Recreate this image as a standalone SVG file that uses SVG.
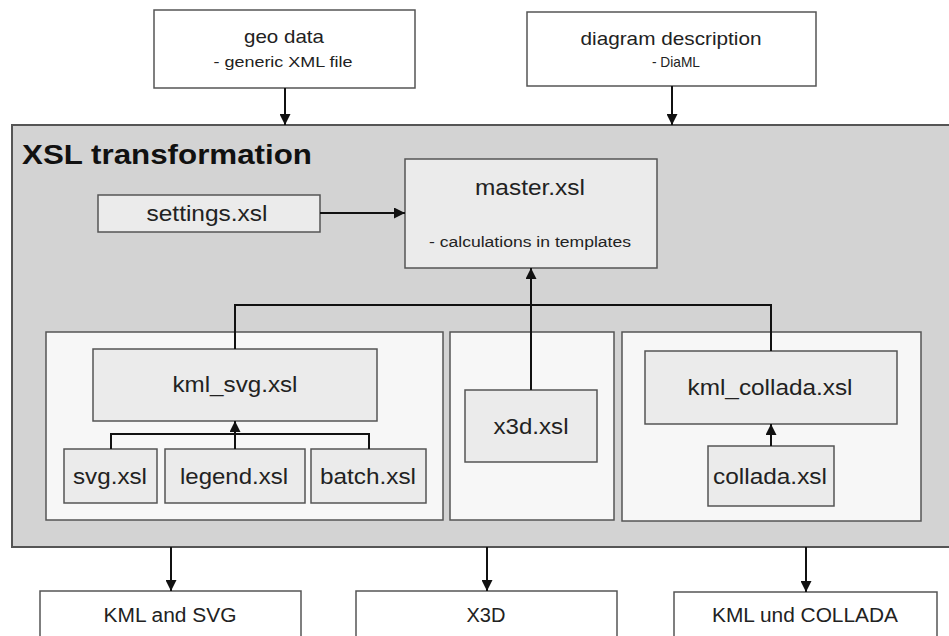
<svg xmlns="http://www.w3.org/2000/svg" width="949" height="636" viewBox="0 0 949 636">
<defs>
<marker id="ah" viewBox="0 0 10 10" refX="10" refY="5" markerWidth="6" markerHeight="5.5" orient="auto" markerUnits="strokeWidth">
<path d="M0,0 L10,5 L0,10 Z" fill="#111"/>
</marker>
<style>
text{font-family:"Liberation Sans",Arial,sans-serif;fill:#222;text-anchor:middle}
.w{fill:#fff;stroke:#555;stroke-width:1.5}
.main{fill:#d3d3d3;stroke:#555;stroke-width:2}
.pan{fill:#f7f7f7;stroke:#555;stroke-width:1.5}
.in{fill:#ebebeb;stroke:#555;stroke-width:1.5}
.c{fill:none;stroke:#111;stroke-width:2}
.a{marker-end:url(#ah)}
.t20{font-size:22px}
</style>
</defs>
<rect width="949" height="636" fill="#fff"/>

<g id="geo"><rect class="w" x="154" y="10" width="261" height="78"/>
<text x="284" y="43" font-size="19" textLength="80" lengthAdjust="spacingAndGlyphs">geo data</text>
<text x="283" y="67" font-size="15.5" textLength="139" lengthAdjust="spacingAndGlyphs">- generic XML file</text></g>

<g id="diagram"><rect class="w" x="527" y="12" width="289" height="74"/>
<text x="671" y="45" font-size="19" textLength="181" lengthAdjust="spacingAndGlyphs">diagram description</text>
<text x="676" y="67" font-size="15" textLength="48" lengthAdjust="spacingAndGlyphs">- DiaML</text></g>

<g id="xsl"><rect class="main" x="12" y="125" width="950" height="422"/>
<text x="22" y="164" font-size="27.5" font-weight="bold" style="text-anchor:start;fill:#111" textLength="290" lengthAdjust="spacingAndGlyphs">XSL transformation</text></g>

<g id="master"><rect class="in" x="405" y="159" width="252" height="109"/>
<text x="530" y="195" class="t20" textLength="110" lengthAdjust="spacingAndGlyphs">master.xsl</text>
<text x="530" y="247" font-size="15.5" textLength="202" lengthAdjust="spacingAndGlyphs">- calculations in templates</text></g>

<g id="settings"><rect class="in" x="98" y="195" width="222" height="37"/>
<text x="207" y="221" class="t20" textLength="121" lengthAdjust="spacingAndGlyphs">settings.xsl</text></g>

<g id="panel-svg"><rect class="pan" x="46" y="332" width="397" height="188"/></g>
<g id="panel-x3d"><rect class="pan" x="450" y="332" width="164" height="188"/></g>
<g id="panel-collada"><rect class="pan" x="622" y="332" width="299" height="189"/></g>

<g id="kml_svg"><rect class="in" x="93" y="349" width="284" height="72"/>
<text x="235" y="392" class="t20" textLength="125" lengthAdjust="spacingAndGlyphs">kml_svg.xsl</text></g>
<g id="svg"><rect class="in" x="64" y="449" width="93" height="54"/>
<text x="110" y="484" class="t20" textLength="74" lengthAdjust="spacingAndGlyphs">svg.xsl</text></g>
<g id="legend"><rect class="in" x="165" y="449" width="140" height="54"/>
<text x="234" y="484" class="t20" textLength="108" lengthAdjust="spacingAndGlyphs">legend.xsl</text></g>
<g id="batch"><rect class="in" x="311" y="449" width="115" height="54"/>
<text x="368" y="484" class="t20" textLength="96" lengthAdjust="spacingAndGlyphs">batch.xsl</text></g>

<g id="x3d"><rect class="in" x="465" y="390" width="132" height="72"/>
<text x="531" y="434" class="t20" textLength="75" lengthAdjust="spacingAndGlyphs">x3d.xsl</text></g>

<g id="kml_collada"><rect class="in" x="645" y="351" width="252" height="73"/>
<text x="770" y="395" class="t20" textLength="165" lengthAdjust="spacingAndGlyphs">kml_collada.xsl</text></g>
<g id="collada"><rect class="in" x="708" y="446" width="126" height="60"/>
<text x="770" y="484" class="t20" textLength="114" lengthAdjust="spacingAndGlyphs">collada.xsl</text></g>

<g id="out-svg"><rect class="w" x="40" y="591" width="261" height="60"/>
<text x="170" y="622" font-size="20" textLength="133" lengthAdjust="spacingAndGlyphs">KML and SVG</text></g>
<g id="out-x3d"><rect class="w" x="356" y="591" width="261" height="60"/>
<text x="486" y="622" font-size="20" textLength="39" lengthAdjust="spacingAndGlyphs">X3D</text></g>
<g id="out-collada"><rect class="w" x="674" y="592" width="263" height="60"/>
<text x="805" y="622" font-size="20" textLength="186" lengthAdjust="spacingAndGlyphs">KML und COLLADA</text></g>

<g id="connectors">
<path class="c a" d="M285,88 V125"/>
<path class="c a" d="M672,86 V125"/>
<path class="c a" d="M320,213 H405"/>
<path class="c a" d="M531,390 V268"/>
<path class="c" d="M235,349 V305 H771 V351"/>
<path class="c" d="M111,449 V434 H369 V449"/>
<path class="c a" d="M235,449 V421"/>
<path class="c a" d="M771,446 V424"/>
<path class="c a" d="M171,547 V591"/>
<path class="c a" d="M487,547 V591"/>
<path class="c a" d="M806,547 V592"/>
</g>
</svg>
